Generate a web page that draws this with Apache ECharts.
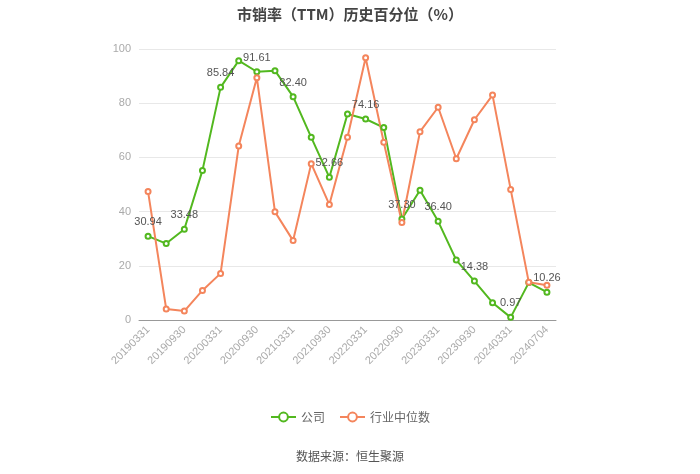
<!DOCTYPE html>
<html><head><meta charset="utf-8">
<script src="https://cdn.jsdelivr.net/npm/echarts@6/dist/echarts.min.js"></script>
<style>html,body{margin:0;padding:0;background:#fff}#c{width:700px;height:474px}</style>
</head><body><div id="c"></div>
<script>
const categories = ['20190331','20190630','20190930','20191231','20200331','20200630','20200930','20201231','20210331','20210630','20210930','20211231','20220331','20220630','20220930','20221231','20230331','20230630','20230930','20231231','20240331','20240630','20240704'];
const company = [30.94,28.2,33.48,55.2,85.84,95.7,91.61,92.0,82.40,67.4,52.66,76.0,74.16,71.0,37.30,47.9,36.40,22.1,14.38,6.4,0.97,13.8,10.26];
const industry = [47.4,4.1,3.3,10.9,17.2,64.2,89.4,39.9,29.3,57.7,42.6,67.4,96.8,65.6,36.0,69.5,78.5,59.5,73.9,83.0,48.2,13.9,12.8];
const yTicks = {min:0,max:100,interval:20};

const chart = echarts.init(document.getElementById('c'));
chart.setOption({
  animation:false,
  title:{text:'市销率（TTM）历史百分位（%）',left:'center',top:2,textStyle:{fontSize:15,fontWeight:'bold',color:'#444',fontFamily:'Noto Sans CJK SC'}},
  legend:{bottom:46,left:'center',itemWidth:25,itemHeight:11,itemGap:14,textStyle:{color:'#666',fontSize:12,fontFamily:'Noto Sans CJK SC'},data:['公司','行业中位数']},
  graphic:[{type:'text',left:'center',top:450,style:{text:'数据来源：恒生聚源',fill:'#555',fontSize:12,fontFamily:'Noto Sans CJK SC'}}],
  grid:{left:139,right:144,top:49,bottom:154},
  xAxis:{type:'category',data:categories,boundaryGap:true,
    axisLine:{lineStyle:{color:'#999'}},
    axisTick:{interval:1,lineStyle:{color:'#999'}},
    axisLabel:{interval:1,rotate:45,color:'#aaa',fontSize:11,margin:8}},
  yAxis:{type:'value',min:yTicks.min,max:yTicks.max,interval:yTicks.interval,
    axisLine:{show:false},axisTick:{show:false},
    axisLabel:{color:'#aaa',fontSize:11},
    splitLine:{lineStyle:{color:'#e8e8e8'}}},
  series:[
    {name:'公司',type:'line',data:company,symbol:'emptyCircle',symbolSize:5,
      itemStyle:{color:'#52b81f'},lineStyle:{width:2,color:'#52b81f'},
      label:{show:true,position:'top',color:'#555',fontSize:11,
        formatter:p=>p.dataIndex%2===0?p.value.toFixed(2):''}},
    {name:'行业中位数',type:'line',data:industry,symbol:'emptyCircle',symbolSize:5,
      itemStyle:{color:'#f4855c'},lineStyle:{width:2,color:'#f4855c'}}
  ]
});
</script></body></html>
